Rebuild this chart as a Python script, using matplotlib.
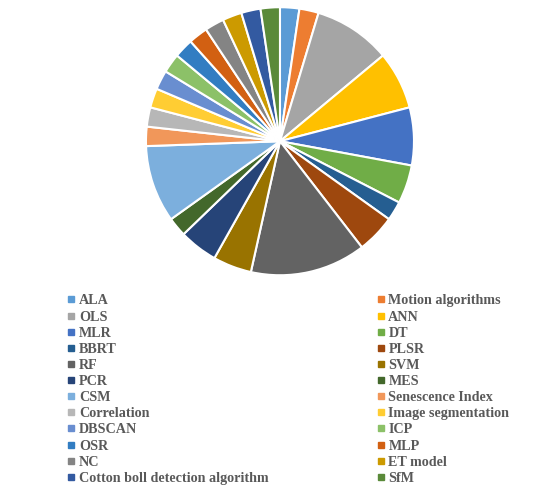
import matplotlib.pyplot as plt
from matplotlib.lines import Line2D

methods = ['ALA', 'Motion algorithms', 'OLS', 'ANN', 'MLR', 'DT', 'BBRT', 'PLSR',
           'RF', 'SVM', 'PCR', 'MES', 'CSM', 'Senescence Index', 'Correlation',
           'Image segmentation', 'DBSCAN', 'ICP', 'OSR', 'MLP', 'NC', 'ET model',
           'Cotton boll detection algorithm', 'SfM']
counts = [1, 1, 4, 3, 3, 2, 1, 2, 6, 2, 2, 1, 4, 1, 1, 1, 1, 1, 1, 1, 1, 1, 1, 1]

# Office theme palette, repeated in shades
colors = ['#5B9BD5', '#ED7D31', '#A5A5A5', '#FFC000', '#4472C4', '#70AD47',
          '#255E91', '#9E480E', '#636363', '#997300', '#264478', '#43682B',
          '#7CAFDD', '#F1975A', '#B7B7B7', '#FFCD33', '#698ED0', '#8CC168',
          '#327DC2', '#D26012', '#848484', '#CC9A00', '#335AA1', '#5A8A39']

fig = plt.figure(figsize=(5.5, 4.87), dpi=100)
ax = fig.add_axes([0.509 - 0.2436, 0.710 - 0.2752, 0.4873, 0.5504])
ax.pie(counts, colors=colors, startangle=90, counterclock=False,
       wedgeprops={'edgecolor': 'white', 'linewidth': 1.5})
ax.set_xlim(-1, 1)
ax.set_ylim(-1, 1)
ax.set_aspect('equal')

# legend reads row by row, matplotlib fills columns first
order = list(range(0, len(methods), 2)) + list(range(1, len(methods), 2))
handles = [Line2D([], [], marker='s', linestyle='none', markersize=4,
                  color=colors[i]) for i in order]
labels = [methods[i] for i in order]
fig.legend(handles, labels, ncol=2, loc='upper left', bbox_to_anchor=(0.114, 0.407),
           frameon=False, handlelength=0.4, handletextpad=0.35, columnspacing=7.7,
           labelspacing=0.22, borderaxespad=0,
           prop={'family': 'Liberation Serif', 'weight': 'bold', 'size': 10.2},
           labelcolor='#595959')

fig.savefig('out.png', dpi=100)
